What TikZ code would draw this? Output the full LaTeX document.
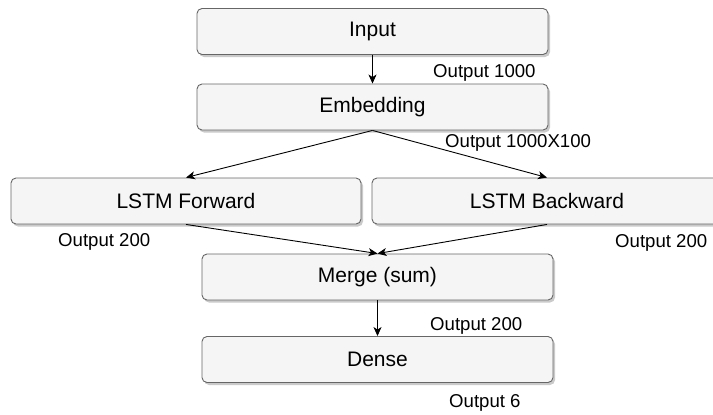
\documentclass[tikz,border=0pt]{standalone}
\usepackage{fontspec}
\setmainfont{Liberation Sans}
\usetikzlibrary{arrows.meta,shadows}
\definecolor{boxfill}{HTML}{F5F5F5}
\definecolor{boxline}{HTML}{666666}
\tikzset{
  layerbox/.style={draw=boxline, fill=boxfill, rounded corners=5pt, line width=0.9pt,
    minimum height=46pt, inner sep=0pt, font=\fontsize{21}{24}\selectfont,
    drop shadow={shadow xshift=2pt, shadow yshift=-2.5pt, fill=black!35, opacity=0.6}},
  outlabel/.style={anchor=west, inner sep=0pt, font=\fontsize{18.6}{21}\selectfont},
  conn/.style={draw=black, line width=0.9pt, -{Stealth[length=9pt,width=8pt,inset=2.5pt]}}
}
\begin{document}
\begin{tikzpicture}[x=1pt,y=-1pt]
\useasboundingbox (0,0) rectangle (713,415);
\clip (0,0) rectangle (713,415);
\node[layerbox, minimum width=351pt] (input) at (372.5,31.5) {Input};
\node[layerbox, minimum width=351pt] (embed) at (372.5,107) {Embedding};
\node[layerbox, minimum width=350pt] (fwd) at (186,201) {LSTM Forward};
\node[layerbox, minimum width=350pt] (bwd) at (547,201) {LSTM Backward};
\node[layerbox, minimum width=351pt] (merge) at (377.5,277) {Merge (sum)};
\node[layerbox, minimum width=351pt] (dense) at (377.5,359.5) {Dense};

\draw[conn] (input.south) -- (embed.north);
\draw[conn] (embed.south) -- (fwd.north);
\draw[conn] (embed.south) -- (bwd.north);
\draw[conn] (fwd.south) -- (merge.north);
\draw[conn] (bwd.south) -- (merge.north);
\draw[conn] (merge.south) -- (dense.north);

\node[outlabel] (l1) at (433,73) {Output 1000};
\node[outlabel] (l2) at (445,143) {Output 1000X100};
\node[outlabel] (l3) at (58,242) {Output 200};
\node[outlabel] (l4) at (615,243) {Output 200};
\node[outlabel] (l5) at (430,326) {Output 200};
\node[outlabel] (l6) at (449,403) {Output 6};
\end{tikzpicture}
\end{document}
